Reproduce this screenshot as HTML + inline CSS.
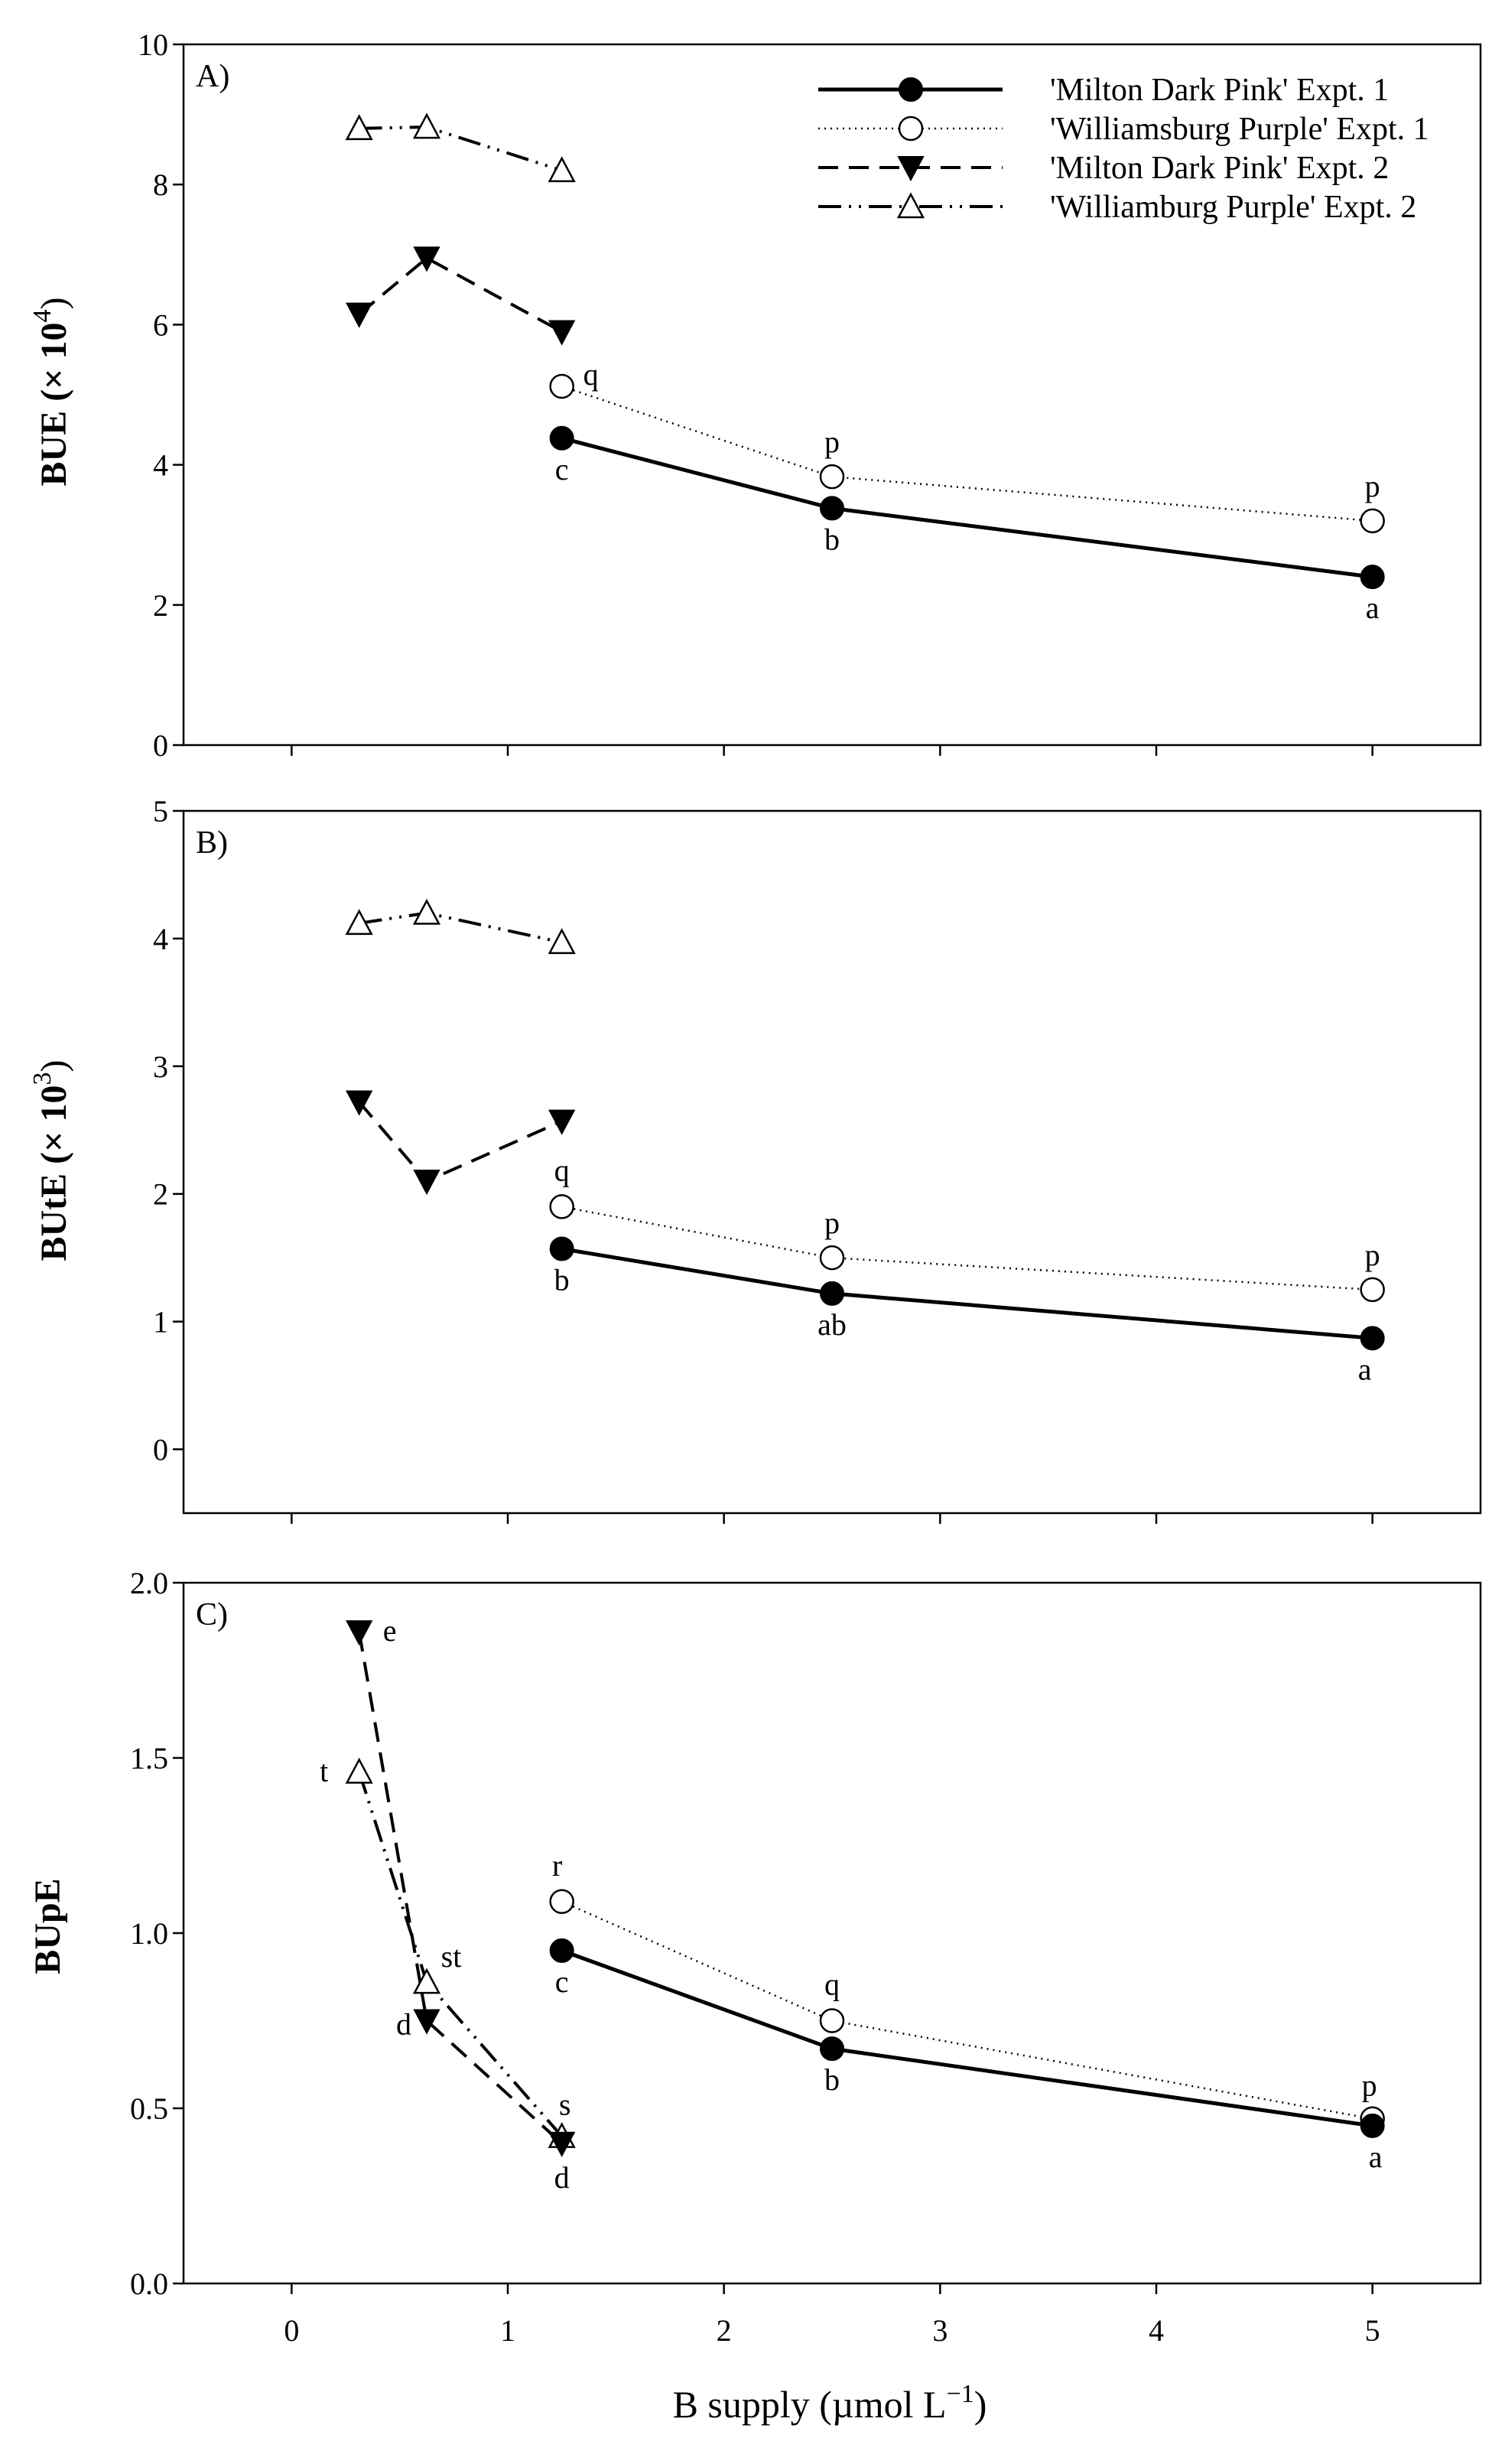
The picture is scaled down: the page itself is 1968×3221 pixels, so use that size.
<!DOCTYPE html>
<html><head><meta charset="utf-8"><style>
html,body{margin:0;padding:0;background:#fff;}
svg text{font-family:"Liberation Serif",serif;fill:#000;}
</style></head><body>
<svg id="chart" width="1968" height="3216" viewBox="0 0 1968 3216" xmlns="http://www.w3.org/2000/svg"></svg>
<script>
// shared x data
const xExpt1 = [1.25, 2.5, 5];
const xExpt2 = [0.3125, 0.625, 1.25];
const xTicks = [0, 1, 2, 3, 4, 5];

// Panel A: BUE
const bueMDP1 = [4.38, 3.38, 2.4];
const bueWP1 = [5.12, 3.83, 3.2];
const bueMDP2 = [6.15, 6.95, 5.9];
const bueWP2 = [8.8, 8.82, 8.2];
const bueTicks = [0, 2, 4, 6, 8, 10];
const bueLettersMDP1 = ['c', 'b', 'a'];
const bueLettersWP1 = ['q', 'p', 'p'];

// Panel B: BUtE
const buteMDP1 = [1.57, 1.22, 0.87];
const buteWP1 = [1.9, 1.5, 1.25];
const buteMDP2 = [2.72, 2.1, 2.57];
const buteWP2 = [4.12, 4.2, 3.97];
const buteTicks = [0, 1, 2, 3, 4, 5];
const buteLettersMDP1 = ['b', 'ab', 'a'];
const buteLettersWP1 = ['q', 'p', 'p'];

// Panel C: BUpE
const bupeMDP1 = [0.95, 0.67, 0.45];
const bupeWP1 = [1.09, 0.75, 0.47];
const bupeMDP2 = [1.86, 0.75, 0.4];
const bupeWP2 = [1.46, 0.86, 0.42];
const bupeTicks = ['0.0', '0.5', '1.0', '1.5', '2.0'];
const bupeLettersMDP1 = ['c', 'b', 'a'];
const bupeLettersWP1 = ['r', 'q', 'p'];
const bupeLettersMDP2 = ['e', 'd', 'd'];
const bupeLettersWP2 = ['t', 'st', 's'];

const NS = 'http://www.w3.org/2000/svg';
const svg = document.getElementById('chart');
function mk(tag, attrs, parent) {
  const e = document.createElementNS(NS, tag);
  for (const k in attrs) e.setAttribute(k, attrs[k]);
  (parent || svg).appendChild(e);
  return e;
}
const L = 240, R = 1936;
const xMin = -0.5, xMax = 5.5;
function xs(v) { return L + (v - xMin) / (xMax - xMin) * (R - L); }

const styles = {
  mdp1: {dash: '', w: 5},
  wp1: {dash: '2 6', w: 2.5},
  mdp2: {dash: '26 14', w: 4},
  wp2: {dash: '30 10 3 10 3 10', w: 4}
};

function marker(g, kind, cx, cy) {
  let m;
  if (kind === 'mdp1') m = mk('circle', {cx, cy, r: 15, fill: '#000', stroke: '#000', 'stroke-width': 2}, g);
  else if (kind === 'wp1') m = mk('circle', {cx, cy, r: 15, fill: '#fff', stroke: '#000', 'stroke-width': 2.5}, g);
  else if (kind === 'mdp2') m = mk('polygon', {points: `${cx-16},${cy-14} ${cx+16},${cy-14} ${cx},${cy+16}`, fill: '#000', stroke: '#000', 'stroke-width': 2}, g);
  else m = mk('polygon', {points: `${cx-16},${cy+14} ${cx+16},${cy+14} ${cx},${cy-16}`, fill: '#fff', stroke: '#000', 'stroke-width': 2.5}, g);
  
  
}

function panel(cfg) {
  const {id, top, bottom, yMin, yMax, ticks, tickVals, series, label, title, sup, titleY, showXLabels} = cfg;
  const ys = v => bottom - (v - yMin) / (yMax - yMin) * (bottom - top);
  const g = mk('g', {});
  
  
  const frame = mk('rect', {x: L, y: top, width: R - L, height: bottom - top, fill: 'none', stroke: '#000', 'stroke-width': 2.5}, g);
  
  
  tickVals.forEach((v, i) => {
    const y = ys(v);
    mk('line', {x1: L - 14, x2: L, y1: y, y2: y, stroke: '#000', 'stroke-width': 2.5}, g);
    const t = mk('text', {x: L - 20, y: y + 14, 'text-anchor': 'end', 'font-size': 40}, g);
    t.textContent = ticks[i];
    
    
  });
  xTicks.forEach(v => {
    const x = xs(v);
    mk('line', {x1: x, x2: x, y1: bottom, y2: bottom + 14, stroke: '#000', 'stroke-width': 2.5}, g);
    if (showXLabels) {
      const t = mk('text', {x: x, y: bottom + 75, 'text-anchor': 'middle', 'font-size': 40}, g);
      t.textContent = v;
      
      
    }
  });
  const pl = mk('text', {x: L + 16, y: top + 55, 'font-size': 42}, g);
  pl.textContent = label;
  
  
  const yt = mk('text', {x: 0, y: 0, 'text-anchor': 'middle', 'font-size': 48, 'font-weight': 'bold', transform: `translate(${cfg.titleX || 86},${titleY}) rotate(-90)`}, g);
  yt.textContent = title;
  if (sup) {
    const s = mk('tspan', {dy: -20, 'font-size': 34, 'font-weight': 'normal'}, yt);
    s.textContent = sup;
    const c = mk('tspan', {dy: 20, 'font-weight': 'normal'}, yt);
    c.textContent = ')';
  }
  
  
  series.forEach(s => {
    const xv = s.kind === 'mdp1' || s.kind === 'wp1' ? xExpt1 : xExpt2;
    const pts = s.vals.map((v, i) => xs(xv[i]) + ',' + ys(v)).join(' ');
    const line = mk('polyline', {points: pts, fill: 'none', stroke: '#000', 'stroke-width': styles[s.kind].w, 'stroke-dasharray': styles[s.kind].dash}, g);
    
    
  });
  series.forEach(s => {
    const xv = s.kind === 'mdp1' || s.kind === 'wp1' ? xExpt1 : xExpt2;
    s.vals.forEach((v, i) => marker(g, s.kind, xs(xv[i]), ys(v)));
    if (s.letters) s.letters.forEach((lt, i) => {
      const off = s.offs[i];
      const t = mk('text', {x: xs(xv[i]) + off[0], y: ys(s.vals[i]) + off[1], 'text-anchor': 'middle', 'font-size': 40}, g);
      t.textContent = lt;
      
      
    });
  });
}

const below = [0, 54], above = [0, -32];
panel({id: 'a', top: 58, bottom: 974, yMin: 0, yMax: 10, ticks: bueTicks, tickVals: bueTicks, label: 'A)',
  title: 'BUE (× 10', sup: '4', titleY: 512,
  series: [
    {kind: 'wp2', vals: bueWP2},
    {kind: 'mdp2', vals: bueMDP2},
    {kind: 'wp1', vals: bueWP1, letters: bueLettersWP1, offs: [[38, -2], above, above]},
    {kind: 'mdp1', vals: bueMDP1, letters: bueLettersMDP1, offs: [below, below, below]}
  ]});
panel({id: 'b', top: 1060, bottom: 1978, yMin: -0.5, yMax: 5, ticks: buteTicks, tickVals: buteTicks, label: 'B)',
  title: 'BUtE (× 10', sup: '3', titleY: 1517,
  series: [
    {kind: 'wp2', vals: buteWP2},
    {kind: 'mdp2', vals: buteMDP2},
    {kind: 'wp1', vals: buteWP1, letters: buteLettersWP1, offs: [[0, -34], above, above]},
    {kind: 'mdp1', vals: buteMDP1, letters: buteLettersMDP1, offs: [below, below, [-10, 54]]}
  ]});
panel({id: 'c', top: 2069, bottom: 2985, yMin: 0, yMax: 2, ticks: bupeTicks, tickVals: [0, 0.5, 1, 1.5, 2], label: 'C)',
  title: 'BUpE', titleY: 2518, titleX: 78, showXLabels: true,
  series: [
    {kind: 'wp2', vals: bupeWP2, letters: bupeLettersWP2, offs: [[-46, 12], [32, -20], [4, -28]]},
    {kind: 'mdp2', vals: bupeMDP2, letters: bupeLettersMDP2, offs: [[40, 12], [-30, 18], [0, 58]]},
    {kind: 'wp1', vals: bupeWP1, letters: bupeLettersWP1, offs: [[-6, -34], [0, -34], [-4, -30]]},
    {kind: 'mdp1', vals: bupeMDP1, letters: bupeLettersMDP1, offs: [below, below, [4, 54]]}
  ]});

// x axis title
const xt = mk('text', {x: 1085, y: 3160, 'text-anchor': 'middle', 'font-size': 50});
xt.textContent = 'B supply (µmol L';
const sp = mk('tspan', {dy: -20, 'font-size': 34}, xt); sp.textContent = '−1';
const cp = mk('tspan', {dy: 20}, xt); cp.textContent = ')';



// legend
const legendNames = ["'Milton Dark Pink' Expt. 1", "'Williamsburg Purple' Expt. 1", "'Milton Dark Pink' Expt. 2", "'Williamburg Purple' Expt. 2"];
const legendKinds = ['mdp1', 'wp1', 'mdp2', 'wp2'];
const lg = mk('g', {});


legendKinds.forEach((k, i) => {
  const y = 117 + i * 51;
  const e = mk('g', {}, lg);
  
  
  mk('line', {x1: 1070, x2: 1311, y1: y, y2: y, stroke: '#000', 'stroke-width': styles[k].w, 'stroke-dasharray': styles[k].dash}, e);
  marker(e, k, 1191, y);
  const t = mk('text', {x: 1373, y: y + 14, 'font-size': 42}, e);
  t.textContent = legendNames[i];
});
</script>
</body></html>
